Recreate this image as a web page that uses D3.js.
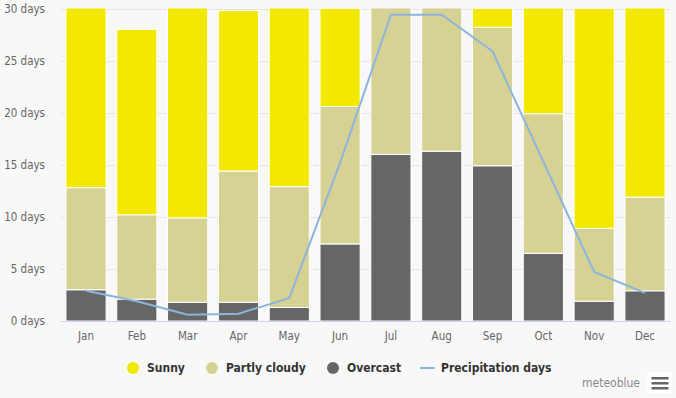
<!DOCTYPE html>
<html>
<head>
<meta charset="utf-8">
<script src="https://cdn.jsdelivr.net/npm/d3@7"></script>
<style>
  html, body { margin: 0; padding: 0; background: #f8f8f8; }
  svg { display: block; font-family: "DejaVu Sans Condensed", "DejaVu Sans", Verdana, sans-serif; font-stretch: condensed; }
</style>
</head>
<body>
<div id="chart"></div>
<script>
// Monthly cloud / precipitation days
const months = ["Jan", "Feb", "Mar", "Apr", "May", "Jun", "Jul", "Aug", "Sep", "Oct", "Nov", "Dec"];
const overcast = [3.0, 2.1, 1.8, 1.8, 1.3, 7.4, 16.0, 16.3, 14.9, 6.5, 1.9, 2.9];
const partlyCloudy = [9.8, 8.1, 8.1, 12.6, 11.6, 13.2, 14.7, 14.5, 13.3, 13.4, 7.0, 9.0];
const sunny = [18.2, 17.8, 21.1, 15.4, 18.1, 9.4, 0.3, 0.2, 1.8, 11.1, 21.1, 19.1];
const precipitation = [2.9, 1.9, 0.6, 0.7, 2.2, 15.2, 29.4, 29.4, 25.9, 15.3, 4.7, 2.7];
const yTicks = [0, 5, 10, 15, 20, 25, 30];

const series = [
    { key: "overcast", name: "Overcast", color: "#666666", values: overcast },
    { key: "partly", name: "Partly cloudy", color: "#d6d294", values: partlyCloudy },
    { key: "sunny", name: "Sunny", color: "#f3e800", values: sunny }
];

const width = 676;
const height = 398;
const plot = { left: 60.6, right: 670.4, top: 8.5, bottom: 321 };

const svg = d3.select("#chart")
    .append("svg")
    .attr("width", width)
    .attr("height", height);

svg.append("rect")
    .attr("width", width)
    .attr("height", height)
    .attr("fill", "#f8f8f8");

const x = d3.scaleBand()
    .domain(months)
    .range([plot.left, plot.right])
    .paddingInner(0.21)
    .paddingOuter(0.105);

const y = d3.scaleLinear()
    .domain([0, 30])
    .range([plot.bottom, plot.top]);

// Gridlines
svg.append("g")
    .selectAll("line")
    .data(yTicks)
    .join("line")
    .attr("x1", plot.left)
    .attr("x2", plot.right)
    .attr("y1", d => Math.round(y(d)) + 0.5)
    .attr("y2", d => Math.round(y(d)) + 0.5)
    .attr("stroke", "#e6e6e6");

// Y axis labels
svg.append("g")
    .selectAll("text")
    .data(yTicks)
    .join("text")
    .attr("x", 45)
    .attr("y", d => y(d))
    .attr("dy", "0.35em")
    .attr("text-anchor", "end")
    .style("font-size", "11.5px")
    .style("fill", "#666666")
    .text(d => `${d} days`);

// Stacked bars, clipped at the top of the plot
svg.append("clipPath")
    .attr("id", "plot-clip")
    .append("rect")
    .attr("x", plot.left)
    .attr("y", plot.top)
    .attr("width", plot.right - plot.left)
    .attr("height", plot.bottom - plot.top);

const rows = months.map((m, i) => {
    const row = { month: m };
    series.forEach(s => row[s.key] = s.values[i]);
    return row;
});

const stacked = d3.stack().keys(series.map(s => s.key))(rows);

const bars = svg.append("g").attr("clip-path", "url(#plot-clip)");

bars.selectAll("g")
    .data(stacked)
    .join("g")
    .attr("fill", (d, i) => series[i].color)
    .selectAll("rect")
    .data(d => d)
    .join("rect")
    .attr("x", d => x(d.data.month))
    .attr("width", x.bandwidth())
    .attr("y", d => y(d[1]))
    .attr("height", d => y(d[0]) - y(d[1]))
    .attr("stroke", "#ffffff")
    .attr("stroke-width", 1);

// X axis line
svg.append("line")
    .attr("x1", plot.left)
    .attr("x2", plot.right)
    .attr("y1", plot.bottom + 0.5)
    .attr("y2", plot.bottom + 0.5)
    .attr("stroke", "#ccd6eb");

// X axis labels
svg.append("g")
    .selectAll("text")
    .data(months)
    .join("text")
    .attr("x", d => x(d) + x.bandwidth() / 2)
    .attr("y", 336)
    .attr("dy", "0.35em")
    .attr("text-anchor", "middle")
    .style("font-size", "11.5px")
    .style("fill", "#666666")
    .text(d => d);

// Precipitation line
const line = d3.line()
    .x((d, i) => x(months[i]) + x.bandwidth() / 2)
    .y(d => y(d));

svg.append("path")
    .datum(precipitation)
    .attr("d", line)
    .attr("fill", "none")
    .attr("stroke", "#8db4dc")
    .attr("stroke-width", 2)
    .attr("stroke-linejoin", "round");

// Legend
const legendItems = [
    { name: "Sunny", color: "#f3e800", type: "dot", x: 133 },
    { name: "Partly cloudy", color: "#d6d294", type: "dot", x: 212 },
    { name: "Overcast", color: "#666666", type: "dot", x: 333 },
    { name: "Precipitation days", color: "#8db4dc", type: "line", x: 427 }
];

const legend = svg.append("g").attr("transform", "translate(0,368)");

legendItems.forEach(item => {
    if (item.type === "dot") {
        legend.append("circle")
            .attr("cx", item.x)
            .attr("cy", 0)
            .attr("r", 6)
            .attr("fill", item.color);
    } else {
        legend.append("line")
            .attr("x1", item.x - 7)
            .attr("x2", item.x + 8)
            .attr("y1", 0)
            .attr("y2", 0)
            .attr("stroke", item.color)
            .attr("stroke-width", 2);
    }
    legend.append("text")
        .attr("x", item.x + 14)
        .attr("y", 0)
        .attr("dy", "0.35em")
        .style("font-size", "12px")
        .style("font-weight", "bold")
        .style("fill", "#333333")
        .text(item.name);
});

// Credit + menu button
svg.append("text")
    .attr("x", 640)
    .attr("y", 383)
    .attr("dy", "0.35em")
    .attr("text-anchor", "end")
    .style("font-size", "12px")
    .style("fill", "#888888")
    .text("meteoblue");

const menu = svg.append("g").attr("transform", "translate(647,372)");
menu.append("rect")
    .attr("width", 25)
    .attr("height", 21)
    .attr("fill", "#ffffff");
[5, 10, 15].forEach(dy => {
    menu.append("rect")
        .attr("x", 4.5)
        .attr("y", dy)
        .attr("width", 17)
        .attr("height", 2.5)
        .attr("fill", "#666666");
});
</script>
</body>
</html>
